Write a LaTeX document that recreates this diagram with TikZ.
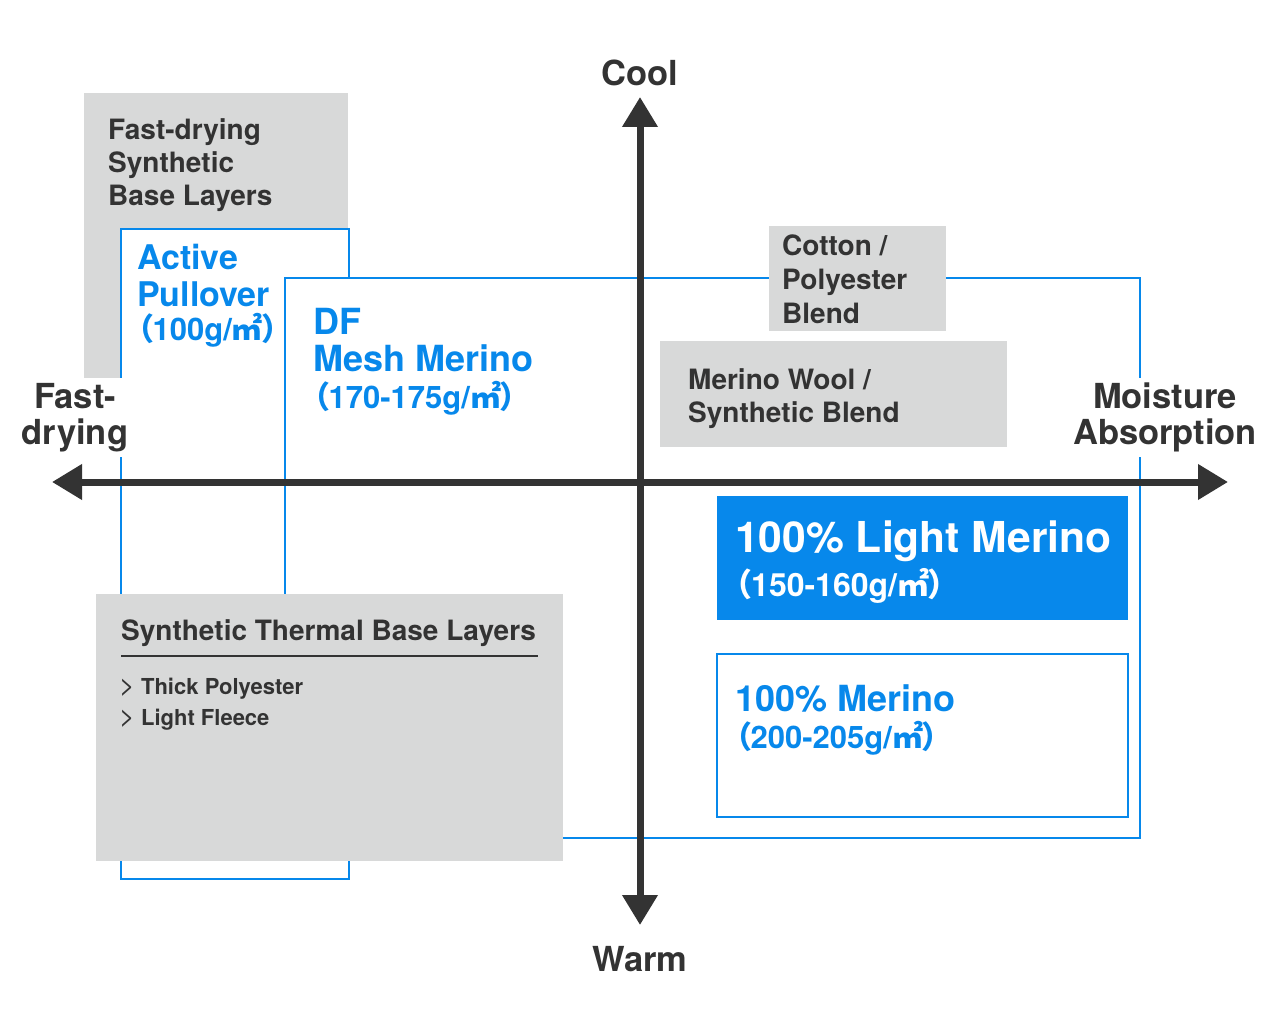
\documentclass[tikz,border=0pt]{standalone}
\usepackage{fontspec}
\setmainfont{TeX Gyre Heros}
\newfontfamily\cjk{Noto Sans CJK JP}[RawFeature=+palt]
\usetikzlibrary{arrows.meta, positioning}

\definecolor{fabricblue}{HTML}{0788EB}
\definecolor{fabricgray}{HTML}{D8D9D9}
\definecolor{inkgray}{HTML}{333333}

% weight per square metre, set as in the chart
\newcommand{\gsm}[1]{{\cjk （}#1g/{\cjk ㎡}{\cjk ）}}
\newcommand{\chev}{{\mdseries\fontsize{27}{27}\selectfont>}}

\begin{document}
\begin{tikzpicture}[x=1pt, y=-1pt,
  graybox/.style={fill=fabricgray},
  bluebox/.style={draw=fabricblue, line width=2pt, fill=white},
  axis/.style={draw=inkgray, line width=7pt, arrows={Triangle[length=30pt,width=34pt]-Triangle[length=30pt,width=34pt]}},
  graytext/.style={anchor=north west, inner sep=0pt, align=left, text=inkgray, font=\fontsize{28}{33}\selectfont\bfseries},
  bluetext/.style={anchor=north west, inner sep=0pt, align=left, text=fabricblue, font=\fontsize{36}{37}\selectfont\bfseries},
  axislabel/.style={fill=white, inner xsep=3pt, inner ysep=5pt, align=center, text=inkgray, font=\fontsize{34.5}{36}\selectfont\bfseries},
]
\fill[white] (0,0) rectangle (1280,1024);
\useasboundingbox (0,0) rectangle (1280,1024);

% boxes, back to front
\fill[graybox] (84,93) rectangle (348,382);
\draw[bluebox] (121,229) rectangle (349,879);
\draw[bluebox] (285,278) rectangle (1140,838);
\fill[graybox] (769,226) rectangle (946,331);
\fill[graybox] (660,341) rectangle (1007,447);
\fill[fabricblue] (717,496) rectangle (1128,620);
\draw[bluebox] (717,654) rectangle (1128,817);
\fill[graybox] (96,594) rectangle (563,861);
\draw[inkgray, line width=2pt] (121,656) -- (538,656);

% axes
\coordinate (west) at (52,482);
\coordinate (east) at (1228,482);
\coordinate (north) at (640,97);
\coordinate (south) at (640,925);
\draw[axis] (west) -- (east);
\draw[axis] (north) -- (south);

\node[axislabel, fill=none, anchor=base] (cool) at (640,86) {Cool};
\node[axislabel, fill=none, anchor=base] (warm) at (640,971) {Warm};
\node[axislabel, anchor=north] (fastdry) at (75,378) {Fast-\\drying};
\node[axislabel, anchor=north] (moisture) at (1165,378) {Moisture\\Absorption};

% labels
\node[graytext] (fastsyn) at (108,118) {Fast-drying\\Synthetic\\Base Layers};
\node[bluetext, font=\fontsize{34}{37}\selectfont\bfseries] (active) at (137,244) {Active\\Pullover\\[-3pt]{\fontsize{31}{31}\selectfont\gsm{100}}};
\node[bluetext] (dfmesh) at (313,308) {DF\\Mesh Merino\\{\fontsize{31}{31}\selectfont\gsm{170-175}}};
\node[graytext, font=\fontsize{28}{34}\selectfont\bfseries] (cotton) at (782,235) {Cotton /\\Polyester\\Blend};
\node[graytext] (woolblend) at (688,368) {Merino Wool /\\Synthetic Blend};
\node[bluetext, text=white, font=\fontsize{42.6}{46}\selectfont\bfseries] (lightmerino) at (735,521) {100\% Light Merino\\[-2pt]{\fontsize{32}{32}\selectfont\gsm{150-160}}};
\node[bluetext] (merino) at (735,684) {100\% Merino\\{\fontsize{31}{31}\selectfont\gsm{200-205}}};
\node[graytext] (thermal) at (121,619) {Synthetic Thermal Base Layers};
\node[graytext, font=\fontsize{22}{31}\selectfont\bfseries] (bullets) at (119,678) {\chev\ Thick Polyester\\\chev\ Light Fleece};
\end{tikzpicture}
\end{document}
